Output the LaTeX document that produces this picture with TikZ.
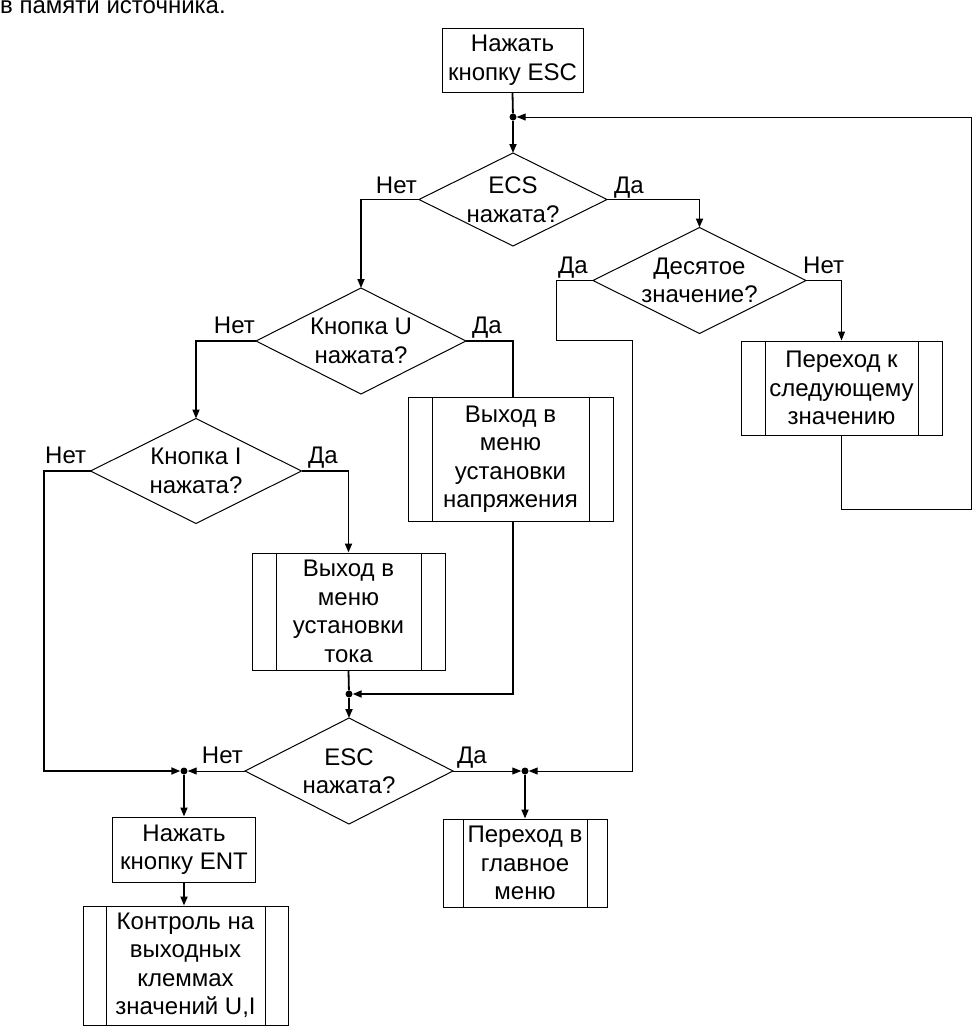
\documentclass[tikz,border=0pt]{standalone}
\usepackage{fontspec}
\setmainfont{Liberation Sans}
\usetikzlibrary{shapes.geometric,arrows.meta}
\begin{document}
\begin{tikzpicture}[x=1pt,y=-1pt,
  every node/.style={font=\fontsize{24}{28.5}\selectfont},
  box/.style={draw, line width=1pt, rectangle, inner sep=0pt, align=center},
  proc/.style={box, path picture={
     \draw[line width=1pt] ([xshift=#1]path picture bounding box.north west) -- ([xshift=#1]path picture bounding box.south west);
     \draw[line width=1pt] ([xshift=-#1]path picture bounding box.north east) -- ([xshift=-#1]path picture bounding box.south east);}},
  proc/.default=24pt,
  dec/.style={draw, line width=1pt, diamond, inner sep=0pt, outer sep=0pt},
  dtext/.style={align=center, inner sep=0pt},
  dot/.style={circle, fill, inner sep=0pt, minimum size=7pt},
  lbl/.style={inner sep=0pt},
  tl/.style={line width=1.8pt},
  nl/.style={line width=1pt},
  arr/.style={-{Triangle[length=9pt,width=7pt]}}
]
\useasboundingbox (0,0) rectangle (973,1026);

% header text
\node[lbl, anchor=base west] (hdr) at (0,13.5) {в памяти источника.};

% boxes
\node[box, minimum width=141pt, minimum height=64pt] (b1) at (512.5,60) {Нажать\\кнопку ESC};
\node[dot] (j1) at (513,117) {};
\node[dec, minimum width=188pt, minimum height=93pt, label={[dtext]center:{ECS\\нажата?}}] (d1) at (513,199.5) {};
\node[dec, minimum width=213pt, minimum height=106pt, label={[dtext]center:{Десятое\\значение?}}] (d3) at (699.5,280.5) {};
\node[proc, minimum width=201pt, minimum height=94pt] (p1) at (841.5,388) {Переход к\\следующему\\значению};
\node[dec, minimum width=210pt, minimum height=106pt, label={[dtext]center:{Кнопка U\\нажата?}}] (d2) at (361,341) {};
\node[proc, minimum width=205pt, minimum height=124pt] (p2) at (510.5,459) {Выход в\\меню\\установки\\напряжения};
\node[dec, minimum width=211pt, minimum height=105pt, label={[dtext]center:{Кнопка I\\нажата?}}] (d4) at (196,471) {};
\node[proc, minimum width=193pt, minimum height=117pt] (p3) at (348.5,611.5) {Выход в\\меню\\установки\\тока};
\node[dot] (j2) at (349,694) {};
\node[dec, minimum width=208pt, minimum height=106pt, label={[dtext]center:{ESC\\нажата?}}] (d5) at (349,771) {};
\node[dot] (j3) at (184,771) {};
\node[dot] (j4) at (525,771) {};
\node[box, minimum width=143pt, minimum height=65pt] (b2) at (184,849.5) {Нажать\\кнопку ENT};
\node[proc=23pt, minimum width=205pt, minimum height=119pt] (p4) at (185.5,965.5) {Контроль на\\выходных\\клеммах\\значений U,I};
\node[proc=20pt, minimum width=164pt, minimum height=88pt] (p5) at (525,863) {Переход в\\главное\\меню};

% branch labels
\node[lbl, anchor=base east] (l1n) at (417,193) {Нет};
\node[lbl, anchor=base west] (l1y) at (614,193) {Да};
\node[lbl, anchor=base west] (l3y) at (558,273) {Да};
\node[lbl, anchor=base west] (l3n) at (803,273) {Нет};
\node[lbl, anchor=base east] (l2n) at (255,333) {Нет};
\node[lbl, anchor=base west] (l2y) at (472,333) {Да};
\node[lbl, anchor=base west] (l4n) at (45,463) {Нет};
\node[lbl, anchor=base west] (l4y) at (308,463) {Да};
\node[lbl, anchor=base east] (l5n) at (243,763) {Нет};
\node[lbl, anchor=base west] (l5y) at (457,763) {Да};

% connectors
\draw[tl] (b1.south) -- (j1);
\draw[tl, arr] (j1) -- (d1.north);
\draw[nl, arr] (p1.south) -- (841.5,509) -- (971,509) -- (971,117) -- (j1);
\draw[tl, arr] (d1.west) -| (d2.north);
\draw[tl, arr] (d1.east) -| (d3.north);
\draw[nl, arr] (d3.west) -- (556,280.5) -- (556,340) -- (632,340) -- (632,771) -- (j4);
\draw[nl, arr] (d3.east) -| (p1.north);
\draw[tl, arr] (d2.west) -| (d4.north);
\draw[tl] (d2.east) -| ([xshift=2.5pt]p2.north);
\draw[tl, arr] ([xshift=2.5pt]p2.south) |- (j2);
\draw[tl, arr] (d4.west) -- (44,471) |- (j3);
\draw[tl, arr] (d4.east) -| (p3.north);
\draw[tl] (p3.south) -- (j2);
\draw[tl, arr] (j2) -- (d5.north);
\draw[nl, arr] (d5.west) -- (j3);
\draw[nl, arr] (d5.east) -- (j4);
\draw[tl, arr] (j3) -- (b2.north);
\draw[tl, arr] (b2.south) -- (b2.south |- p4.north);
\draw[tl, arr] (j4) -- (p5.north);
\end{tikzpicture}
\end{document}
